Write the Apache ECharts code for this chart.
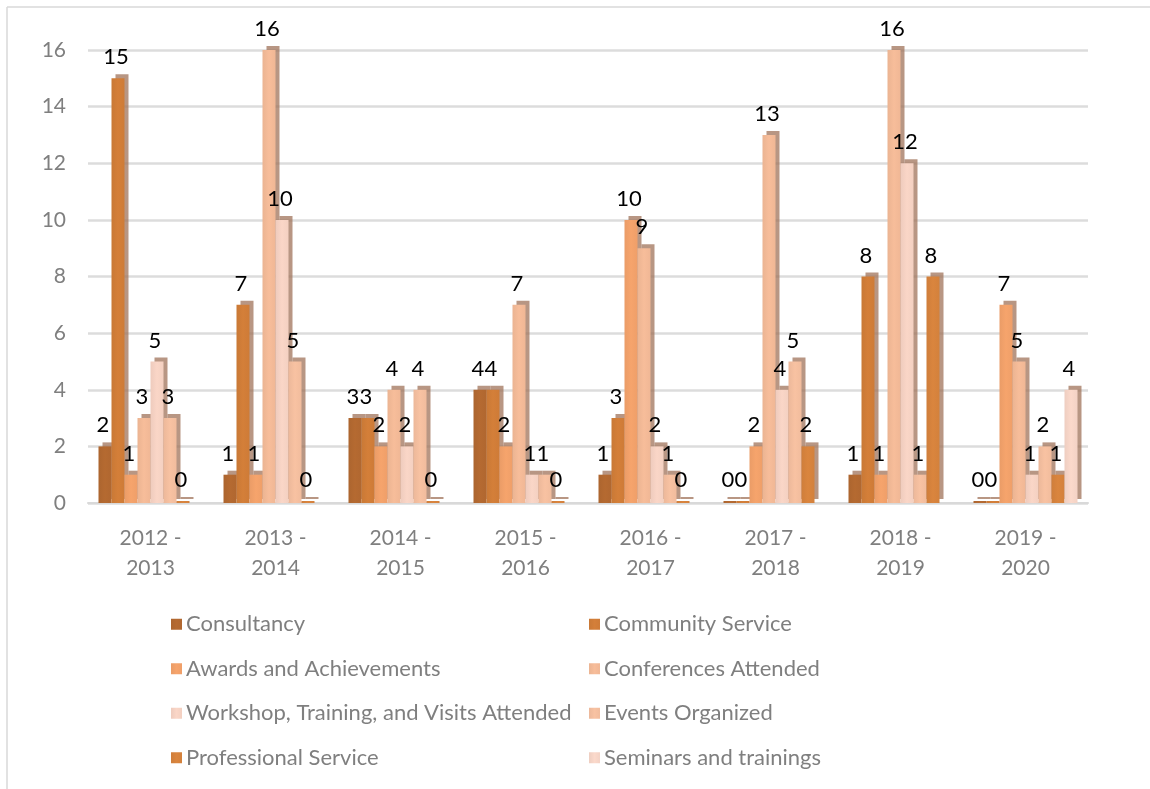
<!DOCTYPE html>
<html>
<head>
<meta charset="utf-8">
<script src="https://cdn.jsdelivr.net/npm/echarts@6/dist/echarts.min.js"></script>
<style>
  html, body { margin: 0; padding: 0; background: #fff; }
  #chart { width: 1150px; height: 789px; }
</style>
</head>
<body>
<div id="chart"></div>
<script>
const categories = ['2012 -\n2013', '2013 -\n2014', '2014 -\n2015', '2015 -\n2016', '2016 -\n2017', '2017 -\n2018', '2018 -\n2019', '2019 -\n2020'];
const seriesNames = ['Consultancy', 'Community Service', 'Awards and Achievements', 'Conferences Attended', 'Workshop, Training, and Visits Attended', 'Events Organized', 'Professional Service', 'Seminars and trainings'];
const consultancy = [2, 1, 3, 4, 1, 0, 1, 0];
const communityService = [15, 7, 3, 4, 3, 0, 8, 0];
const awardsAchievements = [1, 1, 2, 2, 10, 2, 1, 7];
const conferencesAttended = [3, 16, 4, 7, 9, 13, 16, 5];
const workshopTraining = [5, 10, 2, 1, 2, 4, 12, 1];
const eventsOrganized = [3, 5, 4, 1, 1, 5, 1, 2];
const professionalService = [0, 0, 0, 0, 0, 2, 8, 1];
const seminarsTrainings = [null, null, null, null, null, null, null, 4];
const yTicks = [0, 2, 4, 6, 8, 10, 12, 14, 16];

const allValues = [consultancy, communityService, awardsAchievements, conferencesAttended, workshopTraining, eventsOrganized, professionalService, seminarsTrainings];
const colors = ['#b56a31', '#d47f39', '#f6a46c', '#f7bd9a', '#fad6c7', '#f8c2a2', '#da853e', '#fbd9cb'];

function shade(hex, f) {
  const n = parseInt(hex.slice(1), 16);
  let r = (n >> 16) & 255, g = (n >> 8) & 255, b = n & 255;
  r = Math.round(r * f); g = Math.round(g * f); b = Math.round(b * f);
  return 'rgb(' + r + ',' + g + ',' + b + ')';
}

const chart = echarts.init(document.getElementById('chart'), null, { renderer: 'canvas' });

const series = allValues.map((vals, i) => ({
  name: seriesNames[i],
  type: 'bar',
  data: vals,
  barWidth: 13,
  barGap: '0%',
  barMinHeight: 2,
  itemStyle: {
    color: {
      type: 'linear', x: 0, y: 0, x2: 1, y2: 0,
      colorStops: [
        { offset: 0, color: shade(colors[i], 0.95) },
        { offset: 0.5, color: colors[i] },
        { offset: 1, color: shade(colors[i], 0.97) }
      ]
    },
    shadowColor: 'rgba(160,115,90,0.75)',
    shadowOffsetX: 4,
    shadowOffsetY: -4,
    shadowBlur: 0
  },
  label: {
    show: true,
    position: 'top',
    distance: 10,
    offset: [-2, 0],
    color: '#000',
    fontSize: 22,
    fontFamily: 'Lato',
    formatter: p => (p.value == null ? '' : String(p.value))
  },
  emphasis: { disabled: true }
}));

const leftNames = [seriesNames[0], seriesNames[2], seriesNames[4], seriesNames[6]];
const rightNames = [seriesNames[1], seriesNames[3], seriesNames[5], seriesNames[7]];
const legendCommon = {
  orient: 'vertical',
  top: 607,
  itemWidth: 11,
  itemHeight: 11,
  itemGap: 20,
  icon: 'rect',
  textStyle: { color: '#7f7f7f', fontSize: 22, fontFamily: 'Lato', lineHeight: 24.5, padding: [0, 0, 0, -1] },
  selectedMode: false
};

chart.setOption({
  animation: false,
  color: colors,
  graphic: [
    { type: 'line', shape: { x1: 7, y1: 7, x2: 1150, y2: 7 }, style: { stroke: '#d9d9d9', lineWidth: 1.5 } },
    { type: 'line', shape: { x1: 7, y1: 7, x2: 7, y2: 789 }, style: { stroke: '#d9d9d9', lineWidth: 1.5 } }
  ],
  grid: { left: 88, right: 62, top: 50, bottom: 286 },
  legend: [
    Object.assign({}, legendCommon, { left: 166, data: leftNames }),
    Object.assign({}, legendCommon, { left: 584, data: rightNames })
  ],
  xAxis: {
    type: 'category',
    data: categories,
    axisLine: { show: true, lineStyle: { color: '#d9d9d9', width: 2 } },
    axisTick: { show: false },
    axisLabel: { color: '#7f7f7f', fontSize: 21, fontFamily: 'Lato', lineHeight: 30, margin: 20 }
  },
  yAxis: {
    type: 'value',
    min: yTicks[0],
    max: yTicks[yTicks.length - 1],
    interval: 2,
    axisLine: { show: false },
    axisTick: { show: false },
    splitLine: { lineStyle: { color: '#dcdcdc', width: 2.5 } },
    axisLabel: { color: '#7f7f7f', fontSize: 21, fontFamily: 'Lato', margin: 22 }
  },
  series: series
});
</script>
</body>
</html>
